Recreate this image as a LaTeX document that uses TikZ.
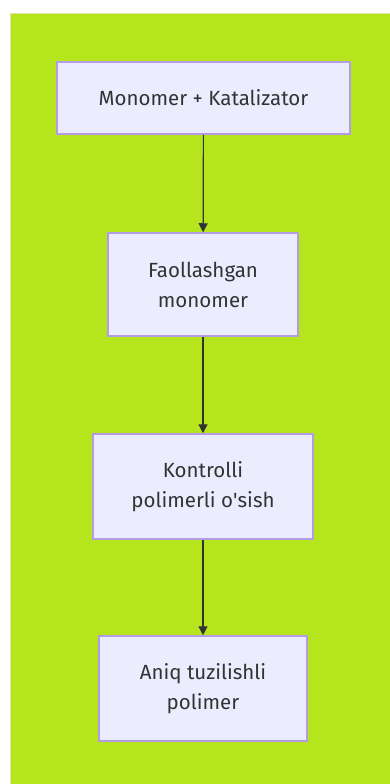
\documentclass[tikz,border=0pt]{standalone}
\usepackage{fontspec}
\setmainfont{Fira Sans}
\usetikzlibrary{arrows.meta}
\definecolor{bggreen}{RGB}{181,230,29}
\definecolor{boxfill}{RGB}{236,236,255}
\definecolor{boxline}{RGB}{180,155,230}
\definecolor{txt}{RGB}{51,51,51}
\begin{document}
\begin{tikzpicture}[x=1pt,y=-1pt,
    stepbox/.style={draw=boxline, line width=1.5pt, fill=boxfill, text=txt,
      align=center, inner sep=0pt, font=\fontsize{20.5}{30}\selectfont},
    flow/.style={draw=txt, line width=1.2pt, -{Triangle[length=9pt,width=9pt]}}]
        
        % Canvas and background
        \useasboundingbox (0,0) rectangle (390,784);
        \fill[white] (0,0) rectangle (390,784);
        \draw[fill=bggreen, draw=bggreen!60!brown!40, line width=1pt] (10.5,13.5) rectangle (392,786);
        
        % Steps
        \node[stepbox, minimum width=293pt, minimum height=72pt] (monomer) at (203.5,98) {Monomer + Katalizator};
        \node[stepbox, minimum width=190pt, minimum height=103pt] (faol) at (203,284.5) {Faollashgan\\monomer};
        \node[stepbox, minimum width=220pt, minimum height=105pt] (kontrol) at (203,486.5) {Kontrolli\\polimerli o\textquotesingle sish};
        \node[stepbox, minimum width=208pt, minimum height=105pt] (polimer) at (203,688.5) {Aniq tuzilishli\\polimer};
        
        % Arrows
        \draw[flow] (monomer) -- (faol);
        \draw[flow] (faol) -- (kontrol);
        \draw[flow] (kontrol) -- (polimer);
        
\end{tikzpicture}
\end{document}
